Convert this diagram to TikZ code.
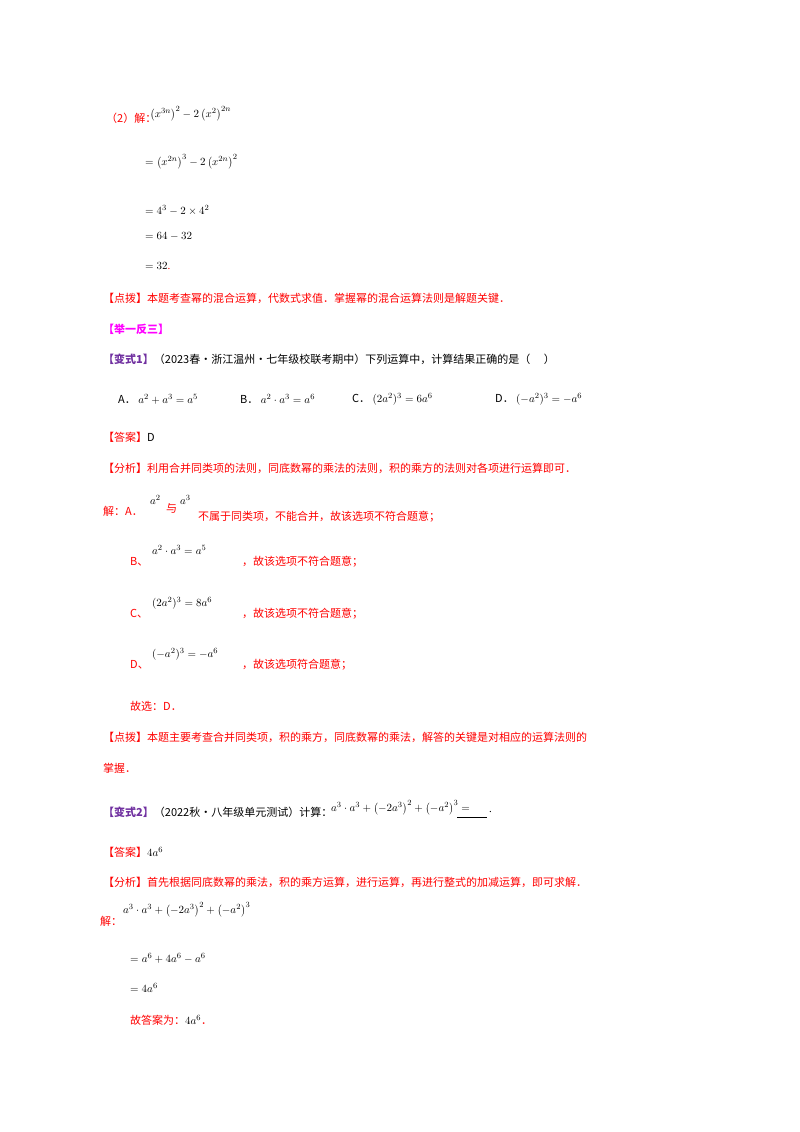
\documentclass[tikz,border=0pt]{standalone}
\usepackage{fontspec}
\setmainfont{Liberation Serif}
\newfontfamily\cjk{Noto Sans CJK SC}
\definecolor{rd}{RGB}{255,0,0}
\definecolor{mg}{RGB}{255,0,255}
\definecolor{pp}{RGB}{112,48,160}
\begin{document}
\begin{tikzpicture}[x=1pt,y=-1pt,
  t/.style={anchor=west,inner sep=0pt,font=\fontsize{11}{13}\cjk},
  r/.style={t,text=rd},
  m/.style={anchor=west,inner sep=0pt,font=\fontsize{11}{13}\selectfont}]
\useasboundingbox[fill=white] (0,0) rectangle (800,1132);
\node[r] (a1) at (106,118) {（2）解：};
\node[m] (m1) at (150,114) {$\left(x^{3n}\right)^2-2\left(x^2\right)^{2n}$};
\node[m] (m2) at (145,162) {$=\left(x^{2n}\right)^3-2\left(x^{2n}\right)^2$};
\node[m] (m3) at (145,210) {$=4^3-2\times4^2$};
\node[m] (m4) at (145,236) {$=64-32$};
\node[m] (m5) at (145,266) {$=32$\textcolor{rd}{.}};
\node[r] (d1) at (103,298) {【点拨】本题考查幂的混合运算，代数式求值．掌握幂的混合运算法则是解题关键．};
\node[t,text=mg,font=\fontsize{11}{13}\cjk\bfseries] (j) at (103,329) {【举一反三】};
\node[t] (b1) at (103,359) {\textcolor{pp}{\bfseries【变式1】}（2023春·浙江温州·七年级校联考期中）下列运算中，计算结果正确的是（\quad\ ）};
\node[t] (oA) at (118,399) {A．\ \fontsize{11}{13}\selectfont$a^2+a^3=a^5$};
\node[t] (oB) at (240,399) {B．\ \fontsize{11}{13}\selectfont$a^2\cdot a^3=a^6$};
\node[t] (oC) at (352,399) {C．\ \fontsize{11}{13}\selectfont$(2a^2)^3=6a^6$};
\node[t] (oD) at (495,399) {D．\ \fontsize{11}{13}\selectfont$(-a^2)^3=-a^6$};
\node[r] (ans1) at (103,437) {【答案】\textcolor{black}{D}};
\node[r] (f1) at (103,468) {【分析】利用合并同类项的法则，同底数幂的乘法的法则，积的乘方的法则对各项进行运算即可．};
\node[r] (s0) at (103,511) {解：A．};
\node[m] (sa) at (150,500) {$a^2$};
\node[r] (sy) at (166,508) {与};
\node[m] (sb) at (180,500) {$a^3$};
\node[r] (sn) at (198,517) {不属于同类项，不能合并，故该选项不符合题意；};
\node[r] (sB) at (130,562) {B、};
\node[m] (mB) at (152,550) {$a^2\cdot a^3=a^5$};
\node[r] (tB) at (242,562) {，故该选项不符合题意；};
\node[r] (sC) at (130,614) {C、};
\node[m] (mC) at (152,603) {$(2a^2)^3=8a^6$};
\node[r] (tC) at (242,614) {，故该选项不符合题意；};
\node[r] (sD) at (130,665) {D、};
\node[m] (mD) at (152,654) {$(-a^2)^3=-a^6$};
\node[r] (tD) at (242,665) {，故该选项符合题意；};
\node[r] (g1) at (130,706) {故选：D．};
\node[r] (d2) at (103,737) {【点拨】本题主要考查合并同类项，积的乘方，同底数幂的乘法，解答的关键是对相应的运算法则的};
\node[r] (d2b) at (103,768) {掌握．};
\node[t] (b2) at (103,812) {\textcolor{pp}{\bfseries【变式2】}（2022秋·八年级单元测试）计算：};
\node[m] (mb2) at (331,808) {$a^3\cdot a^3+\left(-2a^3\right)^2+\left(-a^2\right)^3=$};
\draw (457,817) -- (487,817);
\node[m] at (489,812) {.};
\node[r] (ans2) at (103,852) {【答案】\textcolor{black}{\fontsize{11}{13}\selectfont$4a^6$}};
\node[r] (f2) at (103,882) {【分析】首先根据同底数幂的乘法，积的乘方运算，进行运算，再进行整式的加减运算，即可求解．};
\node[r] (s2) at (100,921) {解：};
\node[m] (n1) at (123,910) {$a^3\cdot a^3+\left(-2a^3\right)^2+\left(-a^2\right)^3$};
\node[m] (n2) at (130,958) {$=a^6+4a^6-a^6$};
\node[m] (n3) at (130,988) {$=4a^6$};
\node[r] (g2) at (130,1020) {故答案为：\textcolor{black}{\fontsize{11}{13}\selectfont$4a^6$}．};
\end{tikzpicture}
\end{document}
